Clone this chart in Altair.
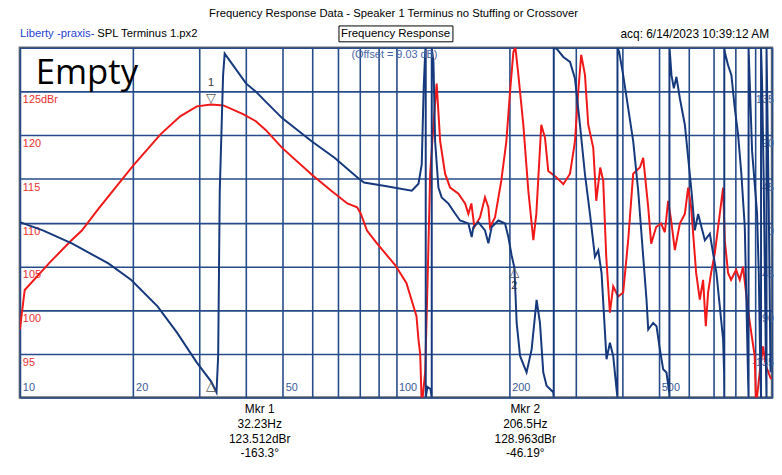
import altair as alt
import pandas as pd

# ---------------- data ----------------
red_freq = [10.0, 10.3, 11.98, 13.65, 14.61, 16.19, 19.98, 23.65, 26.68, 29.55, 32.23, 34.76, 39.22, 42.42,
            45.04, 49.82, 59.67, 67.3, 74.25, 78.84, 80.6, 83.74, 88.9, 99.5, 106.6, 113.4, 114.8, 116.0,
            117.1, 119.6, 121.5, 123.3, 125.8, 128.3, 131.1, 135.1, 139.3, 146.6, 152.7, 155.8, 158.7, 161.6,
            167.3, 172.5, 176.1, 177.9, 183.4, 190.6, 196.6, 201.1, 205.2, 207.7, 211.6, 218.1, 224.9, 231.9,
            236.2, 243.5, 249.1, 254.1, 266.9, 278.6, 290.3, 299.2, 305.3, 310.9, 318.1, 324.6, 334.7, 340.9,
            349.3, 355.7, 362.4, 370.6, 378.2, 389.9, 402.0, 414.5, 427.4, 445.3, 454.5, 468.6, 477.2, 491.9,
            507.2, 518.8, 529.4, 539.2, 551.6, 568.7, 586.4, 598.4, 609.5, 628.4, 642.7, 655.8, 666.7, 676.1,
            688.7, 704.4, 726.3, 741.2, 748.9, 764.1, 778.3, 802.5, 820.8, 837.5, 853.0, 872.6, 899.5, 906.8,
            927.5, 946.4, 964.0, 993.9]
red_db = [97.8, 102.3, 105.4, 107.9, 109.1, 111.6, 116.5, 120.1, 122.15, 123.3, 123.5, 123.4, 122.4, 121.6,
          120.6, 118.55, 115.5, 113.65, 112.2, 111.75, 111.05, 109.1, 107.65, 105.15, 103.1, 99.3, 96.6, 95.0,
          89.0, 92.9, 104.2, 115.6, 121.2, 125.9, 119.3, 115.6, 114.0, 113.3, 112.2, 111.0, 112.2, 109.5,
          110.6, 112.9, 111.75, 109.5, 110.6, 114.8, 119.3, 125.0, 129.5, 130.1, 126.9, 121.2, 113.65, 108.0,
          111.0, 121.2, 119.7, 115.9, 115.2, 114.4, 115.6, 119.3, 125.0, 129.2, 126.9, 121.2, 118.55, 112.5,
          116.3, 114.8, 106.1, 99.7, 102.7, 101.55, 102.0, 108.0, 115.6, 116.3, 117.4, 111.75, 107.6, 109.5,
          109.9, 108.9, 112.5, 110.25, 106.85, 109.9, 111.0, 114.0, 111.75, 104.25, 101.2, 103.45, 98.15, 102.0,
          104.25, 106.5, 111.0, 114.0, 108.0, 104.25, 103.45, 104.6, 103.45, 104.95, 102.0, 98.6, 94.75, 89.0,
          92.9, 95.85, 93.6, 92.1]

blue_freq = [10.0, 11.51, 13.79, 17.19, 19.78, 23.23, 26.2, 29.55, 32.23, 33.33, 33.67, 34.0, 34.7, 35.04,
             39.93, 42.42, 45.04, 49.82, 59.67, 68.65, 78.99, 82.22, 92.74, 110.2, 114.8, 117.1, 118.5, 119.6,
             120.0, 120.0, 121.3, 123.5, 124.5, 124.5, 125.8, 127.1, 129.7, 132.3, 137.9, 143.6, 148.1, 155.8,
             159.0, 160.6, 165.6, 172.5, 176.1, 179.7, 187.2, 195.0, 199.0, 203.0, 206.5, 209.4, 213.8, 222.5,
             229.5, 236.6, 241.5, 246.5, 251.5, 262.0, 262.8, 262.8, 267.4, 278.6, 290.3, 299.2, 308.5, 318.1,
             328.0, 338.2, 345.1, 352.2, 363.0, 370.6, 378.2, 385.9, 388.2, 388.2, 392.3, 402.0, 414.5, 427.4,
             440.7, 454.5, 463.7, 468.6, 483.1, 493.0, 503.3, 513.5, 524.0, 532.8, 533.6, 533.6, 535.0, 540.3,
             548.2, 557.0, 568.7, 586.4, 598.4, 610.6, 623.4, 636.2, 649.2, 662.9, 683.4, 697.4, 711.7, 726.3,
             741.2, 745.7, 746.6, 746.6, 748.9, 764.1, 779.8, 796.1, 812.4, 829.0, 846.4, 863.7, 866.3, 866.3,
             885.1, 912.6, 922.1, 931.1, 935.0, 935.0, 940.8, 950.5, 964.0, 966.9, 966.9, 979.9, 990.8]
blue_phase = [0.5, -8.0, -21.6, -42.0, -59.0, -86.2, -113.4, -144.0, -163.3, -174.6, -137.2, 32.8, 151.8, 173.9,
              143.3, 134.8, 124.6, 107.6, 83.8, 66.8, 46.4, 41.3, 37.9, 32.8, 40.0, 60.0, 138.2, 175.6,
              180, -180, -169.1, -171.2, -180, 180, 165.4, 83.8, 36.2, 26.0, 19.6, 9.4, 2.2, -0.8,
              -14.8, -4.6, 0.5, -8.0, -21.2, -4.6, 2.2, -0.8, -14.8, -33.5, -46.2, -103.2, -137.2, -154.2,
              -130.4, -79.4, -103.2, -154.2, -167.8, -174.6, -180, 180, 179, 170.5, 165.4, 148.4, 100.8, 49.8,
              9.0, -35.2, -28.4, -52.2, -140.6, -123.6, -137.2, -171.2, -180, 180, 175.6, 151.8, 117.8, 83.8,
              32.8, -35.2, -79.4, -110, -103.2, -106.6, -130.4, -150.8, -154.2, -174.6, -180, 180, 175.6, 151.8,
              138.2, 150.1, 128.0, 100.8, 66.8, 32.8, -8.0, 9.0, -4.6, -18.2, -11.4, -31.8, -52.2, -86.2,
              -120.2, -154.2, -180, 180, 175.6, 162.0, 151.8, 117.8, 90.6, 49.8, -4.6, -161.0, -180, 180,
              73.6, 9.4, -52.2, -153.8, -180, 180, 145, 43, -154, -180, 180, 22.6, -154]

grid_freqs = [10, 20, 30, 40, 50, 60, 70, 80, 90, 100, 200, 300, 400, 500, 600, 700, 800, 900, 1000]
grid_levels = [90, 95, 100, 105, 110, 115, 120, 125, 130]
freq_labels = [10, 20, 50, 100, 200, 500]
level_values = [125, 120, 115, 110, 105, 100, 95]
level_labels = ["125dBr", "120", "115", "110", "105", "100", "95"]
phase_values = [135, 90, 45, 0, -45, -90, -135]

mkr_names = ["1", "2"]
mkr_freq = [32.23, 206.5]
mkr_level = [123.512, 128.963]
mkr_phase = [-163.3, -46.19]

title_text = "Frequency Response Data - Speaker 1 Terminus no Stuffing or Crossover"
left_head_1 = "Liberty -praxis-"
left_head_2 = "SPL Terminus 1.px2"
mid_head = "Frequency Response"
right_head = "acq: 6/14/2023 10:39:12 AM"
offset_text = "(Offset = 9.03 dB)"
empty_text = "Empty"

# ---------------- styling ----------------
W, H = 759, 353
RED = "#f01818"
BLUE = "#15397c"
GRID = "#264b8a"
NARROW = "'Liberation Sans Narrow', 'Liberation Sans', Arial, sans-serif"
SANS = "'Liberation Sans', Arial, sans-serif"

red_df = pd.DataFrame({"f": red_freq, "db": red_db, "i": list(range(len(red_freq)))})
blue_df = pd.DataFrame({"f": blue_freq, "ph": blue_phase, "i": list(range(len(blue_freq)))})
flab_df = pd.DataFrame({"f": freq_labels, "t": [str(v) for v in freq_labels]})
llab_df = pd.DataFrame({"db": level_values, "t": level_labels})
plab_df = pd.DataFrame({"ph": phase_values, "t": [str(v) for v in phase_values]})
mk_df = pd.DataFrame({"f": mkr_freq, "db": mkr_level, "ph": mkr_phase, "n": mkr_names})
one = pd.DataFrame({"a": [0]})

xs = alt.Scale(type="log", domain=[10, 1000], nice=False)
ys = alt.Scale(domain=[90, 130], nice=False, zero=False)
X = alt.X("f:Q", scale=xs, axis=alt.Axis(values=grid_freqs, grid=True, labels=False, ticks=False,
                                         domain=False, title=None, gridColor=GRID, gridWidth=1.6,
                                         gridOpacity=1))
Y = alt.Y("db:Q", scale=ys, axis=alt.Axis(values=grid_levels, grid=True, labels=False, ticks=False,
                                          domain=False, title=None, gridColor=GRID, gridWidth=1.6,
                                          gridOpacity=1))

red_line = alt.Chart(red_df).mark_line(color=RED, strokeWidth=2, clip=True).encode(
    x=X, y=Y, order="i:Q")

blue_line = alt.Chart(blue_df).transform_calculate(db="110 + datum.ph / 9").mark_line(
    color=BLUE, strokeWidth=2, clip=True).encode(x=X, y=Y, order="i:Q")

x_labels = alt.Chart(flab_df).mark_text(align="left", baseline="middle", dx=3, font=SANS,
                                        fontSize=11, color="#3a5a98").encode(
    x=X, y=alt.value(H - 9.5), text="t:N")

y_labels = alt.Chart(llab_df).mark_text(align="left", baseline="top", dy=3, font=SANS,
                                        fontSize=11, color="#e83030").encode(
    x=alt.value(3), y=Y, text="t:N")

p_labels = alt.Chart(plab_df).transform_calculate(db="110 + datum.ph / 9").mark_text(
    align="right", baseline="top", dy=3, font=SANS, fontSize=11, color="#4a6aa8").encode(
    x=alt.value(W + 2), y=Y, text="t:N")

mk1 = mk_df[mk_df["n"] == "1"]
top_tri = alt.Chart(mk1).mark_text(text="▽", baseline="bottom", fontSize=13, color="#555555",
                                   font="DejaVu Sans").encode(x=X, y=Y)
top_num = alt.Chart(mk1).mark_text(baseline="bottom", dy=-17, fontSize=11, font=SANS,
                                   color="#333333").encode(x=X, y=Y, text="n:N")
bot_tri = alt.Chart(mk_df).transform_calculate(db="110 + datum.ph / 9").mark_text(
    text="△", baseline="top", dy=-1, fontSize=13, color="#555555", font="DejaVu Sans").encode(x=X, y=Y)
mk2 = mk_df[mk_df["n"] == "2"]
bot_num = alt.Chart(mk2).transform_calculate(db="110 + datum.ph / 9").mark_text(
    baseline="top", dy=13, fontSize=11, font=SANS, color="#333333").encode(x=X, y=Y, text="n:N")

def txt(s, x, y, **kw):
    base = dict(font=NARROW, fontSize=12, color="black", baseline="middle")
    base.update(kw)
    return alt.Chart(one).mark_text(text=s, **base).encode(x=alt.value(x), y=alt.value(y))

title = txt(title_text, 377, -34, align="center", fontSize=11.4)
h1 = txt(left_head_1, 0, -14, align="left", color="#1f3fd0", fontSize=11.4)
h2 = txt(left_head_2, 78, -14, align="left", fontSize=11.4)
h3 = txt(mid_head, 379, -14, align="center", fontSize=11.6)
h4 = txt(right_head, 756, -14, align="right", fontSize=12)
box = alt.Chart(one).mark_rect(fill="white", fillOpacity=0, stroke="black", strokeWidth=1).encode(
    x=alt.value(322), x2=alt.value(437), y=alt.value(-22), y2=alt.value(-6))
offset_lbl = txt(offset_text, 378, 7, align="center", color="#4a66a8", fontSize=11)
empty_lbl = txt(empty_text, 16, 37, align="left", baseline="alphabetic", font="'Open Sans'",
                fontSize=35, color="black")

read_texts = []
for k in range(len(mkr_names)):
    s = "\n".join([f"Mkr {mkr_names[k]}", f"{mkr_freq[k]}Hz", f"{mkr_level[k]}dBr", f"{mkr_phase[k]}°"])
    read_texts.append(s)
r1 = alt.Chart(one).mark_text(text=read_texts[0], lineBreak="\n", lineHeight=14.7, align="center",
                              baseline="top", font=NARROW, fontSize=12, color="black").encode(
    x=alt.value(242), y=alt.value(360))
r2 = alt.Chart(one).mark_text(text=read_texts[1], lineBreak="\n", lineHeight=14.7, align="center",
                              baseline="top", font=NARROW, fontSize=12, color="black").encode(
    x=alt.value(510), y=alt.value(360))

chart = alt.layer(
    p_labels, y_labels, x_labels, red_line, blue_line, top_tri, top_num, bot_tri, bot_num,
    title, h1, h2, h3, h4, box, offset_lbl, empty_lbl, r1, r2
).properties(
    width=W, height=H,
    padding={"left": 12, "top": 38, "right": 2, "bottom": 70},
    autosize=alt.AutoSizeParams(type="none"),
    background="white",
).configure_view(stroke="#6a6a6a", strokeWidth=2.5)

chart.save("out.html", embed_options={"renderer": "svg", "actions": False})
